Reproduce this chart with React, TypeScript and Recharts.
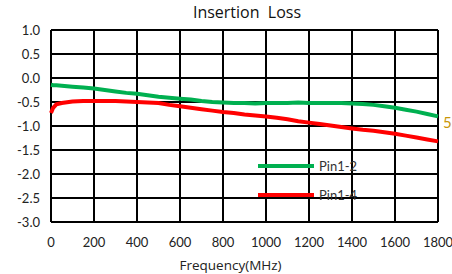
import React from 'react';
import { LineChart, Line, XAxis, YAxis, CartesianGrid, Legend } from 'recharts';

const freqs = [0, 10, 25, 50, 100, 150, 200, 250, 300, 350, 400, 450, 500, 550, 600, 650, 700, 750, 800, 850, 900, 950, 1000, 1050, 1100, 1150, 1200, 1250, 1300, 1350, 1400, 1450, 1500, 1550, 1600, 1650, 1700, 1750, 1800];
const pin12 = [-0.14, -0.15, -0.15, -0.16, -0.18, -0.2, -0.22, -0.25, -0.28, -0.31, -0.33, -0.36, -0.39, -0.41, -0.43, -0.45, -0.48, -0.5, -0.51, -0.52, -0.52, -0.53, -0.52, -0.52, -0.52, -0.51, -0.52, -0.52, -0.52, -0.52, -0.53, -0.54, -0.56, -0.59, -0.62, -0.66, -0.7, -0.75, -0.8];
const pin14 = [-0.73, -0.62, -0.55, -0.52, -0.49, -0.48, -0.48, -0.48, -0.48, -0.49, -0.5, -0.51, -0.52, -0.56, -0.59, -0.62, -0.65, -0.68, -0.71, -0.73, -0.76, -0.78, -0.8, -0.83, -0.86, -0.9, -0.93, -0.96, -0.99, -1.02, -1.05, -1.08, -1.1, -1.13, -1.16, -1.2, -1.24, -1.28, -1.32];
const xTicks = [0, 200, 400, 600, 800, 1000, 1200, 1400, 1600, 1800];
const yTicks = [1.0, 0.5, 0.0, -0.5, -1.0, -1.5, -2.0, -2.5, -3.0];
const seriesNames = ['Pin1-2', 'Pin1-4'];
const seriesColors = ['#00b050', '#ff0000'];

const data = freqs.map((f, i) => ({ f, a: pin12[i], b: pin14[i] }));

const FONT = 'Lato, "Open Sans", sans-serif';
const FONT2 = '"Open Sans", Lato, sans-serif';

const LegendContent = () => (
  <div style={{ fontFamily: FONT, fontSize: 13, color: '#333' }}>
    {seriesNames.map((n, i) => (
      <div key={n} style={{ display: 'flex', alignItems: 'center', height: 29 }}>
        <div style={{ width: 56, height: 4, background: seriesColors[i], marginRight: 5 }} />
        <span>{n}</span>
      </div>
    ))}
  </div>
);

export default function App() {
  return (
    <div style={{ position: 'absolute', left: 0, top: 0, width: 452, height: 274, background: '#fff', overflow: 'hidden' }}>
      <div style={{ position: 'absolute', left: 0, width: 494, top: 1, textAlign: 'center', fontFamily: FONT2, fontSize: 16, color: '#111', whiteSpace: 'pre' }}>
        {'Insertion  Loss'}
      </div>
      <LineChart width={452} height={274} data={data} margin={{ top: 30, right: 14, left: 0, bottom: 0 }}>
        <CartesianGrid stroke="#000" strokeWidth={2} horizontalValues={yTicks} verticalValues={xTicks} />
        <XAxis
          dataKey="f"
          type="number"
          domain={[0, 1800]}
          ticks={xTicks}
          interval={0}
          axisLine={false}
          tickLine={false}
          tickSize={0}
          tickMargin={16}
          height={52}
          tick={{ fill: '#222', fontSize: 13, fontFamily: FONT }}
          label={{ value: 'Frequency(MHz)', position: 'insideBottom', offset: 4, dx: -14, fill: '#222', fontSize: 13.5, fontFamily: FONT2 }}
        />
        <YAxis
          type="number"
          domain={[-3, 1]}
          ticks={yTicks}
          interval={0}
          width={51}
          axisLine={false}
          tickLine={false}
          tickSize={0}
          tickMargin={11}
          tickFormatter={(v: number) => v.toFixed(1)}
          tick={{ fill: '#222', fontSize: 13, fontFamily: FONT }}
        />
        <Line dataKey="a" name={seriesNames[0]} stroke={seriesColors[0]} strokeWidth={4} dot={false} isAnimationActive={false} />
        <Line dataKey="b" name={seriesNames[1]} stroke={seriesColors[1]} strokeWidth={4} dot={false} isAnimationActive={false} />
        <Legend
          layout="horizontal"
          verticalAlign="middle"
          align="center"
          content={<LegendContent />}
          wrapperStyle={{ position: 'absolute', left: 258, top: 151, width: 120 }}
        />
      </LineChart>
      <div style={{ position: 'absolute', left: 443, top: 113, fontFamily: FONT, fontSize: 15, color: '#c8960a' }}>5</div>
    </div>
  );
}
